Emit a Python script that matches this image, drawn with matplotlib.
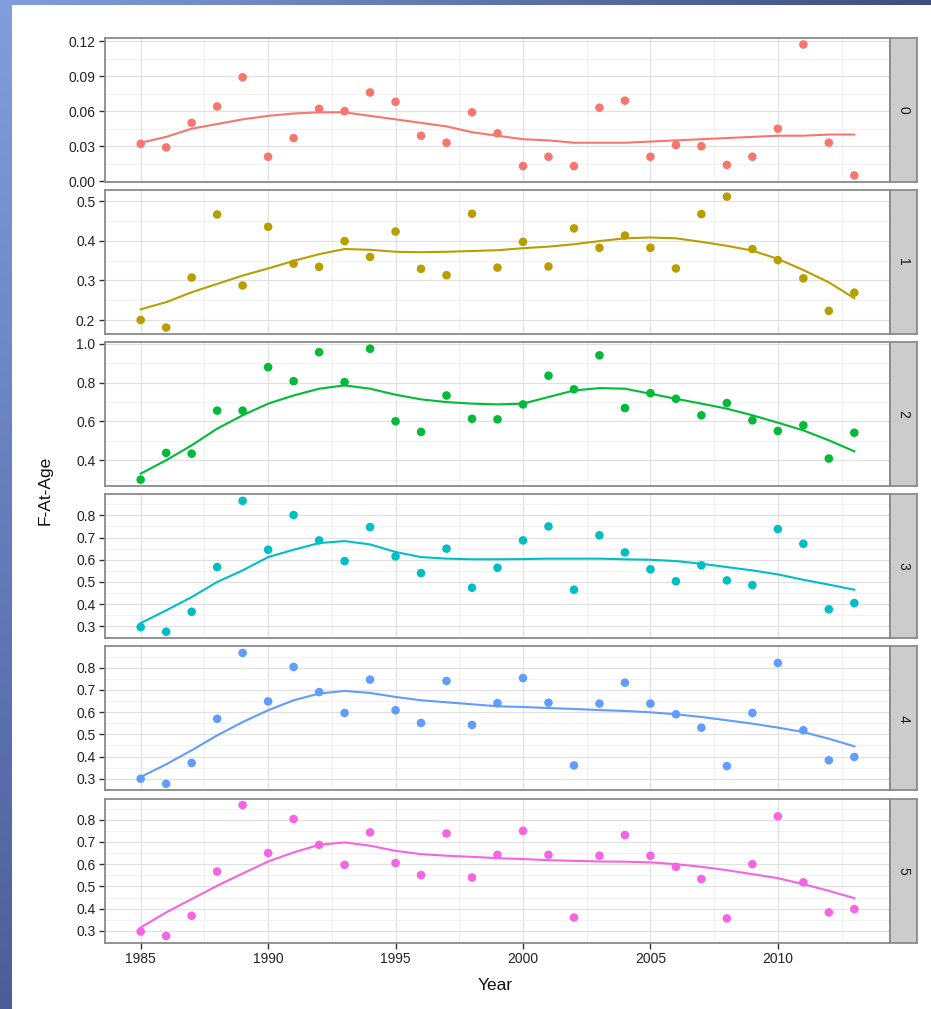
import numpy as np
import matplotlib
matplotlib.use('Agg')
import matplotlib.pyplot as plt

plt.rcParams['font.family'] = ['Liberation Sans', 'DejaVu Sans']

# Fishing mortality at age, 1985-2013
years = list(range(1985, 2014))
ages = ['0', '1', '2', '3', '4', '5']

f_age0 = [0.032, 0.029, 0.050, 0.064, 0.089, 0.021, 0.037, 0.062, 0.060, 0.076,
          0.068, 0.039, 0.033, 0.059, 0.041, 0.013, 0.021, 0.013, 0.063, 0.069,
          0.021, 0.031, 0.030, 0.014, 0.021, 0.045, 0.117, 0.033, 0.005]
f_age1 = [0.200, 0.181, 0.307, 0.466, 0.287, 0.435, 0.342, 0.334, 0.399, 0.359,
          0.423, 0.329, 0.313, 0.468, 0.332, 0.397, 0.335, 0.431, 0.382, 0.413,
          0.382, 0.330, 0.467, 0.511, 0.379, 0.351, 0.305, 0.223, 0.269]
f_age2 = [0.300, 0.438, 0.434, 0.656, 0.656, 0.880, 0.808, 0.957, 0.803, 0.975,
          0.601, 0.546, 0.734, 0.614, 0.611, 0.688, 0.836, 0.766, 0.941, 0.669,
          0.746, 0.717, 0.632, 0.695, 0.606, 0.551, 0.580, 0.409, 0.542]
f_age3 = [0.297, 0.276, 0.366, 0.567, 0.865, 0.645, 0.801, 0.687, 0.594, 0.747,
          0.615, 0.540, 0.650, 0.474, 0.564, 0.687, 0.750, 0.465, 0.710, 0.633,
          0.557, 0.503, 0.575, 0.507, 0.486, 0.738, 0.672, 0.377, 0.405]
f_age4 = [0.300, 0.277, 0.371, 0.570, 0.866, 0.648, 0.803, 0.690, 0.596, 0.746,
          0.608, 0.551, 0.740, 0.542, 0.640, 0.753, 0.642, 0.360, 0.638, 0.732,
          0.638, 0.590, 0.530, 0.357, 0.596, 0.821, 0.518, 0.383, 0.398]
f_age5 = [0.297, 0.277, 0.368, 0.567, 0.866, 0.650, 0.803, 0.687, 0.597, 0.743,
          0.605, 0.551, 0.738, 0.540, 0.642, 0.750, 0.642, 0.360, 0.638, 0.731,
          0.638, 0.588, 0.533, 0.356, 0.600, 0.815, 0.518, 0.383, 0.398]

# fitted smooth per age, one value per year
smooth_age0 = [0.033, 0.038, 0.045, 0.049, 0.053, 0.056, 0.058, 0.059, 0.059, 0.056,
               0.053, 0.050, 0.047, 0.042, 0.039, 0.036, 0.035, 0.033, 0.033, 0.033,
               0.034, 0.035, 0.036, 0.037, 0.038, 0.039, 0.039, 0.040, 0.040]
smooth_age1 = [0.227, 0.245, 0.270, 0.291, 0.312, 0.330, 0.349, 0.366, 0.379, 0.377,
               0.372, 0.371, 0.372, 0.374, 0.376, 0.381, 0.385, 0.391, 0.399, 0.406,
               0.408, 0.406, 0.397, 0.387, 0.375, 0.354, 0.326, 0.295, 0.255]
smooth_age2 = [0.331, 0.400, 0.477, 0.563, 0.632, 0.692, 0.734, 0.769, 0.786, 0.769,
               0.738, 0.714, 0.700, 0.692, 0.688, 0.692, 0.726, 0.760, 0.772, 0.769,
               0.743, 0.717, 0.692, 0.666, 0.632, 0.594, 0.554, 0.503, 0.446]
smooth_age3 = [0.315, 0.372, 0.432, 0.500, 0.552, 0.612, 0.645, 0.675, 0.684, 0.669,
               0.635, 0.612, 0.605, 0.602, 0.602, 0.603, 0.605, 0.605, 0.605, 0.602,
               0.600, 0.594, 0.582, 0.567, 0.552, 0.534, 0.510, 0.488, 0.465]
smooth_age4 = [0.308, 0.365, 0.428, 0.495, 0.555, 0.608, 0.653, 0.683, 0.695, 0.686,
               0.668, 0.653, 0.644, 0.635, 0.626, 0.623, 0.618, 0.614, 0.609, 0.605,
               0.599, 0.590, 0.578, 0.563, 0.548, 0.530, 0.510, 0.480, 0.446]
smooth_age5 = [0.315, 0.383, 0.443, 0.503, 0.558, 0.612, 0.653, 0.687, 0.698, 0.683,
               0.660, 0.645, 0.638, 0.633, 0.627, 0.623, 0.618, 0.615, 0.612, 0.611,
               0.608, 0.600, 0.588, 0.573, 0.555, 0.537, 0.510, 0.480, 0.447]

f_values = [f_age0, f_age1, f_age2, f_age3, f_age4, f_age5]
smooth_values = [smooth_age0, smooth_age1, smooth_age2, smooth_age3, smooth_age4, smooth_age5]

y_ticks = [
    [0.00, 0.03, 0.06, 0.09, 0.12],
    [0.2, 0.3, 0.4, 0.5],
    [0.4, 0.6, 0.8, 1.0],
    [0.3, 0.4, 0.5, 0.6, 0.7, 0.8],
    [0.3, 0.4, 0.5, 0.6, 0.7, 0.8],
    [0.3, 0.4, 0.5, 0.6, 0.7, 0.8],
]
y_fmt = ['{:.2f}', '{:.1f}', '{:.1f}', '{:.1f}', '{:.1f}', '{:.1f}']
x_ticks = [1985, 1990, 1995, 2000, 2005, 2010]

colors = ['#F8766D', '#B79F00', '#00BA38', '#00BFC4', '#619CFF', '#F564E3']

W, H = 931, 1009
fig = plt.figure(figsize=(W / 100, H / 100), dpi=100, facecolor='white')


def px_axes(left, top, right, bottom, **kw):
    return fig.add_axes([left / W, 1 - bottom / H, (right - left) / W, (bottom - top) / H], **kw)


# slide-style blue frame along top and left edge
bg = px_axes(0, 0, W, H, zorder=-10)
img = np.ones((H, W, 3))
c_light = np.array([0x80, 0x9F, 0xDC]) / 255
c_dark = np.array([0x3E, 0x4E, 0x80]) / 255
c_left_bot = np.array([0x4C, 0x5E, 0x9A]) / 255
top_band, left_band = 5, 12
t = np.linspace(0, 1, W)[:, None]
img[:top_band, :, :] = (c_light * (1 - t) + c_dark * t)[None, :, :]
s = np.linspace(0, 1, H)[:, None]
img[top_band:, :left_band, :] = (c_light * (1 - s) + c_left_bot * s)[top_band:, None, :]
bg.imshow(img, aspect='auto', interpolation='nearest')
bg.axis('off')

panel_left, panel_right, strip_right = 105, 890, 917
first_top, pitch, height = 38, 152.1, 144

x_lo, x_hi = years[0], years[-1]
x_pad = 0.05 * (x_hi - x_lo)
x_minor = [1982.5 + 5 * i for i in range(8)]

for i, age in enumerate(ages):
    top = first_top + i * pitch
    ax = px_axes(panel_left, top, panel_right, top + height)
    vals = f_values[i]
    sm = smooth_values[i]

    lo = min(min(vals), min(sm))
    hi = max(max(vals), max(sm))
    pad = 0.05 * (hi - lo)
    ax.set_ylim(lo - pad, hi + pad)
    ax.set_xlim(x_lo - x_pad, x_hi + x_pad)

    # grid: minor halfway between majors, majors slightly darker
    ticks = y_ticks[i]
    step = ticks[1] - ticks[0]
    y_minor = [ticks[0] - step / 2] + [t0 + step / 2 for t0 in ticks]
    for ym in y_minor:
        ax.axhline(ym, color='#F2F2F2', lw=0.8, zorder=0)
    for xm in x_minor:
        ax.axvline(xm, color='#F2F2F2', lw=0.8, zorder=0)
    for yt in ticks:
        ax.axhline(yt, color='#E1E1E1', lw=0.9, zorder=0)
    for xt in x_ticks:
        ax.axvline(xt, color='#E1E1E1', lw=0.9, zorder=0)

    ax.scatter(years, vals, s=38, color=colors[i], edgecolors='none', zorder=3, clip_on=False)
    ax.plot(years, sm, color=colors[i], lw=1.5, zorder=4, solid_joinstyle='round')

    ax.set_yticks(ticks)
    ax.set_yticklabels([y_fmt[i].format(v) for v in ticks])
    ax.set_xticks(x_ticks)
    if i < len(ages) - 1:
        ax.tick_params(axis='x', length=0, labelbottom=False)
    else:
        ax.set_xticklabels([str(v) for v in x_ticks])
        ax.tick_params(axis='x', length=4, width=1, color='#333333', labelsize=10,
                       labelcolor='#222222', pad=3)
    ax.tick_params(axis='y', length=4, width=1, color='#333333', labelsize=10,
                   labelcolor='#222222', pad=3)
    for sp in ax.spines.values():
        sp.set_color('#8A8A8A')
        sp.set_linewidth(1.3)

    strip = px_axes(panel_right, top, strip_right, top + height)
    strip.set_facecolor('#CCCCCC')
    strip.set_xticks([])
    strip.set_yticks([])
    for sp in strip.spines.values():
        sp.set_color('#8A8A8A')
        sp.set_linewidth(1.3)
    strip.text(0.5, 0.5, age, rotation=-90, ha='center', va='center',
               fontsize=10, color='#1A1A1A', transform=strip.transAxes)

fig.text(45 / W, 1 - 490 / H, 'F-At-Age', rotation=90, ha='center', va='center',
         fontsize=12.5, color='#111111')
fig.text(495 / W, 1 - 985 / H, 'Year', ha='center', va='center',
         fontsize=12.5, color='#111111')

fig.savefig('out.png', dpi=100, facecolor='white')
